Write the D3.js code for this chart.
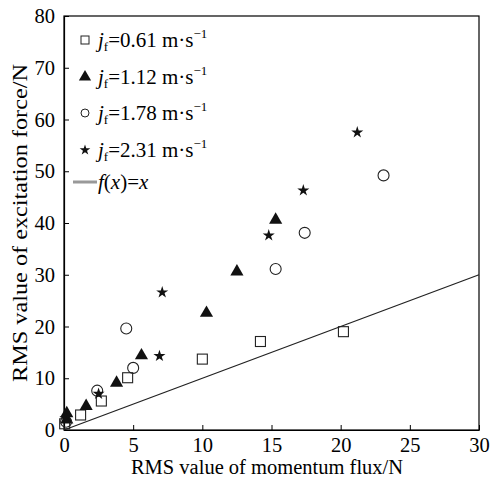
<!DOCTYPE html>
<html><head><meta charset="utf-8">
<script src="https://cdn.jsdelivr.net/npm/d3@7"></script>
<style>body{margin:0;background:#fff} svg text{font-family:"Liberation Serif" !important;}</style>
</head><body>
<svg id="c" width="490" height="479" font-family="Liberation Serif"></svg>
<script>
const xTicks = [0,5,10,15,20,25,30];
const yTicks = [0,10,20,30,40,50,60,70,80];
const s061 = [[0.05,1.2],[1.2,2.9],[2.7,5.6],[4.6,10.1],[10.0,13.7],[14.2,17.1],[20.2,19.0]];
const s112 = [[0.2,2.0],[0.2,3.2],[1.6,4.6],[3.8,9.1],[5.6,14.4],[10.3,22.6],[12.5,30.6],[15.3,40.6]];
const s178 = [[0.15,1.6],[2.4,7.6],[5.0,12.0],[4.5,19.6],[15.3,31.1],[17.4,38.1],[23.1,49.2]];
const s231 = [[0.1,2.3],[2.5,7.0],[6.9,14.3],[7.1,26.6],[14.8,37.6],[17.3,46.3],[21.2,57.5]];
const legendLabels = ["0.61","1.12","1.78","2.31"];

const svg = d3.select("#c");
const font = "Liberation Serif";
const L=64, R=479, T=16, B=430;
const x = d3.scaleLinear().domain([0,30]).range([L,R]);
const y = d3.scaleLinear().domain([0,80]).range([B,T]);

svg.append("rect").attr("x",L).attr("y",T).attr("width",R-L).attr("height",B-T)
  .attr("fill","none").attr("stroke","#000").attr("stroke-width",1.2);

const xa = svg.append("g").attr("transform",`translate(0,${B})`)
  .call(d3.axisBottom(x).tickValues(xTicks).tickSizeInner(-5).tickSizeOuter(0).tickPadding(7));
const ya = svg.append("g").attr("transform",`translate(${L},0)`)
  .call(d3.axisLeft(y).tickValues(yTicks).tickSizeInner(-5).tickSizeOuter(0).tickPadding(9));
[xa,ya].forEach(a=>{
  a.attr("font-family",font).attr("font-size",20);
  a.select(".domain").attr("stroke","#000").attr("stroke-width",1.2);
  a.selectAll("line").attr("stroke","#000");
  a.selectAll("text").attr("font-family",font).attr("font-size",20.5).attr("fill","#000");
});

svg.append("line").attr("x1",x(0)).attr("y1",y(0)).attr("x2",x(30)).attr("y2",y(30))
  .attr("stroke","#222").attr("stroke-width",1.3);

const col="#222";
function drawSeries(data, type){
  const g = svg.append("g");
  data.forEach(d=>{
    const cx=x(d[0]), cy=y(d[1]);
    if(type==="sq") g.append("rect").attr("x",cx-5).attr("y",cy-5).attr("width",10).attr("height",10)
      .attr("fill","none").attr("stroke",col).attr("stroke-width",1.1);
    else if(type==="tri") g.append("path").attr("d",d3.symbol(d3.symbolTriangle,75)()).attr("transform",`translate(${cx},${cy})`).attr("fill","#111");
    else if(type==="ci") g.append("circle").attr("cx",cx).attr("cy",cy).attr("r",5.5)
      .attr("fill","none").attr("stroke",col).attr("stroke-width",1.1);
    else g.append("path").attr("d",d3.symbol(d3.symbolStar,45)()).attr("transform",`translate(${cx},${cy})`).attr("fill","#111");
  });
}
drawSeries(s061,"sq"); drawSeries(s112,"tri"); drawSeries(s178,"ci"); drawSeries(s231,"st");

const types=["sq","tri","ci","st"];
const ly=[40,77,113,150];
types.forEach((t,i)=>{
  const cx=85, cy=ly[i];
  if(t==="sq") svg.append("rect").attr("x",cx-4).attr("y",cy-4).attr("width",8).attr("height",8).attr("fill","none").attr("stroke",col);
  else if(t==="tri") svg.append("path").attr("d",d3.symbol(d3.symbolTriangle,65)()).attr("transform",`translate(${cx},${cy})`).attr("fill","#111");
  else if(t==="ci") svg.append("circle").attr("cx",cx).attr("cy",cy).attr("r",4).attr("fill","none").attr("stroke",col);
  else svg.append("path").attr("d",d3.symbol(d3.symbolStar,35)()).attr("transform",`translate(${cx},${cy})`).attr("fill","#111");
  const tx = svg.append("text").attr("x",98).attr("y",cy+7).attr("font-family",font).attr("font-size",21).attr("fill","#000");
  tx.append("tspan").attr("font-style","italic").text("j");
  tx.append("tspan").attr("font-size",13).attr("dy",4).text("f");
  tx.append("tspan").attr("dy",-4).text("="+legendLabels[i]+" m·s");
  tx.append("tspan").attr("font-size",13).attr("dy",-9).text("−1");
});
svg.append("line").attr("x1",73).attr("x2",97).attr("y1",182).attr("y2",182).attr("stroke","#999").attr("stroke-width",3);
const fx = svg.append("text").attr("x",98).attr("y",189).attr("font-family",font).attr("font-size",21);
fx.append("tspan").attr("font-style","italic").text("f");
fx.append("tspan").text("(");
fx.append("tspan").attr("font-style","italic").text("x");
fx.append("tspan").text(")=");
fx.append("tspan").attr("font-style","italic").text("x");

svg.append("text").attr("x",267).attr("y",474).attr("text-anchor","middle")
  .attr("font-family",font).attr("font-size",20.5).text("RMS value of momentum flux/N");
svg.append("text").attr("transform",`translate(27,223) rotate(-90)`).attr("text-anchor","middle")
  .attr("font-family",font).attr("font-size",22).attr("textLength",318).attr("lengthAdjust","spacingAndGlyphs")
  .text("RMS value of excitation force/N");
</script>
</body></html>
